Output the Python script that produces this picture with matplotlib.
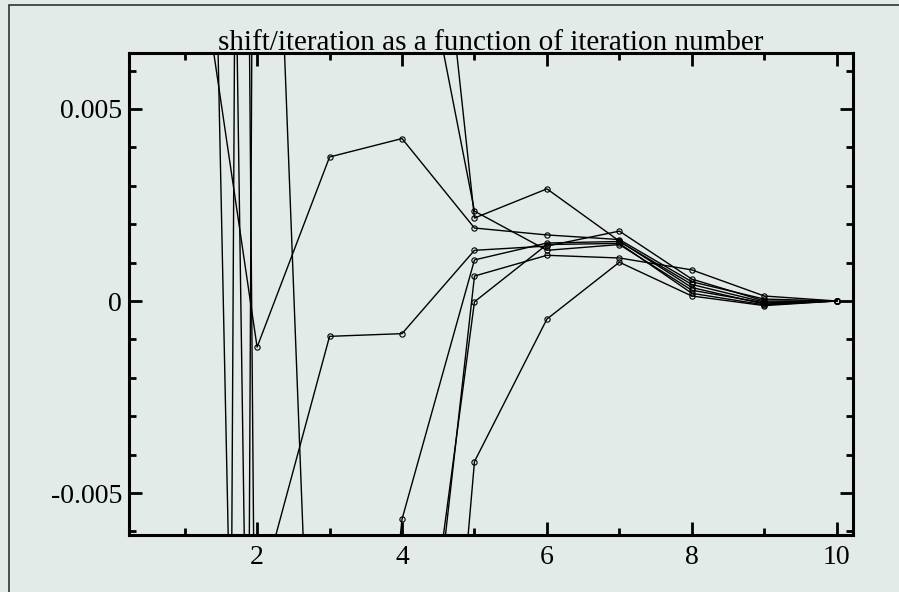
import matplotlib
matplotlib.use("Agg")
import matplotlib.pyplot as plt
from matplotlib.ticker import MultipleLocator
from matplotlib.patches import Rectangle

# iteration numbers and shift/iteration values, one list per run
iterations = [1, 2, 3, 4, 5, 6, 7, 8, 9, 10]

run_a = [0.0116, -0.0012, 0.00375, 0.00423, 0.0019, 0.00172, 0.0016, 0.0005, 0.00005, 0.0]
run_b = [-0.12, -0.0079, -0.00092, -0.00085, 0.00132, 0.00143, 0.00182, 0.00057, 0.0, 0.0]
run_c = [0.08, 0.025, -0.024, -0.00568, 0.00107, 0.00151, 0.00155, 0.00043, -0.00003, 0.0]
run_d = [-0.34, 0.034, 0.02, 0.012, 0.00234, 0.00132, 0.00147, 0.00028, -0.00005, 0.0]
run_e = [-0.232, 0.115, 0.05, 0.0197, 0.00216, 0.00292, 0.00156, 0.00035, -0.00008, 0.0]
run_f = [0.1, -0.029, -0.03, -0.0162, 0.00065, 0.00119, 0.00112, 0.00081, 0.00013, 0.0]
run_g = [0.208, -0.017, -0.02, -0.0142, -0.00002, 0.00147, 0.0015, 0.0002, -0.0001, 0.0]
run_h = [0.048, -0.042, -0.035, -0.026, -0.00418, -0.00047, 0.00101, 0.00013, -0.00012, 0.0]
runs = [run_a, run_b, run_c, run_d, run_e, run_f, run_g, run_h]

bg = "#e2ebe8"
plt.rcParams["font.family"] = ["Liberation Serif", "DejaVu Serif"]

fig = plt.figure(figsize=(8.99, 5.92), dpi=100, facecolor=bg)
ax = fig.add_axes([0.1435, 0.0958, 0.805, 0.8142])
ax.set_facecolor(bg)

for run in runs:
    ax.plot(iterations, run, color="black", lw=1.0, marker="o", ms=3.8,
            mfc="none", mec="black", mew=0.8, clip_on=True)

ax.set_xlim(0.232, 10.22)
ax.set_ylim(-0.0061, 0.00645)
ax.xaxis.set_major_locator(MultipleLocator(2))
ax.xaxis.set_minor_locator(MultipleLocator(1))
ax.yaxis.set_major_locator(MultipleLocator(0.005))
ax.yaxis.set_minor_locator(MultipleLocator(0.001))
ax.yaxis.set_major_formatter(plt.FuncFormatter(lambda v, p: "0" if abs(v) < 1e-12 else "%g" % v))

ax.tick_params(which="both", direction="in", top=True, right=True, labelsize=20, width=2.0)
ax.tick_params(which="major", length=9.5, pad=5)
ax.tick_params(which="minor", length=5)
ax.tick_params(axis="x", which="major", pad=7)
for s in ax.spines.values():
    s.set_linewidth(2.2)

# title sits right on the top spine
ax.text(0.5, 1.006, "shift/iteration as a function of iteration number", fontsize=21,
        ha="center", va="baseline", transform=ax.transAxes)

fig.patches.append(Rectangle((9 / 899, -0.1), 1.2, 1.1 - 5 / 592, transform=fig.transFigure,
                             fill=False, edgecolor="#333333", lw=1.2))

fig.savefig("out.png", dpi=100, facecolor=bg)
